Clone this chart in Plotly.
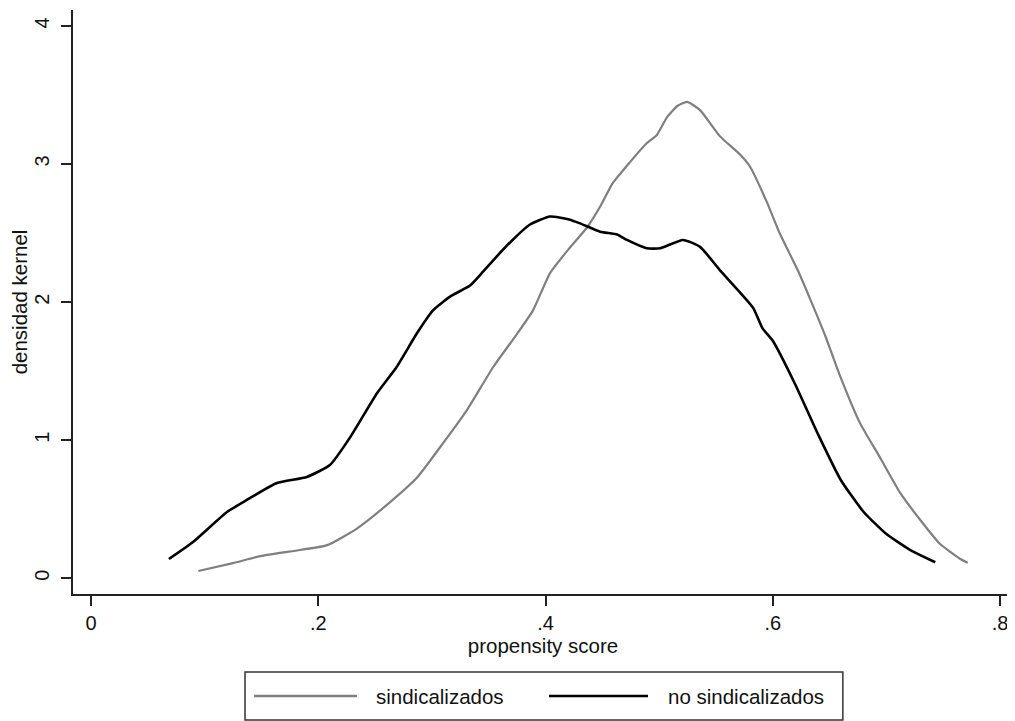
import plotly.graph_objects as go

# sindicalizados (gray)
sind_x = [0.0945, 0.125, 0.149, 0.184, 0.208, 0.234, 0.263, 0.287, 0.310, 0.331, 0.354,
          0.375, 0.389, 0.404, 0.420, 0.4365, 0.448, 0.459, 0.474, 0.489, 0.498, 0.507,
          0.516, 0.5245, 0.536, 0.5536, 0.571, 0.580, 0.595, 0.606, 0.622, 0.633, 0.646,
          0.659, 0.677, 0.694, 0.712, 0.730, 0.747, 0.765, 0.7716]
sind_y = [0.053, 0.11, 0.16, 0.205, 0.24, 0.36, 0.55, 0.73, 0.98, 1.22, 1.53,
          1.77, 1.94, 2.21, 2.38, 2.54, 2.69, 2.86, 3.01, 3.15, 3.21, 3.34,
          3.42, 3.45, 3.39, 3.20, 3.07, 2.98, 2.72, 2.50, 2.23, 2.02, 1.76,
          1.47, 1.12, 0.88, 0.62, 0.42, 0.25, 0.14, 0.113]

# no sindicalizados (black)
nosind_x = [0.0686, 0.0898, 0.1197, 0.137, 0.1637, 0.190, 0.2103, 0.228, 0.2517, 0.269,
            0.287, 0.301, 0.316, 0.3336, 0.345, 0.357, 0.371, 0.386, 0.404, 0.420,
            0.4304, 0.448, 0.463, 0.4717, 0.489, 0.501, 0.521, 0.536, 0.5536, 0.5826,
            0.591, 0.600, 0.620, 0.640, 0.660, 0.680, 0.700, 0.720, 0.743]
nosind_y = [0.14, 0.263, 0.48, 0.567, 0.69, 0.734, 0.82, 1.02, 1.34, 1.53,
            1.776, 1.94, 2.04, 2.12, 2.22, 2.33, 2.45, 2.56, 2.62, 2.60,
            2.57, 2.51, 2.49, 2.45, 2.39, 2.39, 2.45, 2.40, 2.23, 1.96,
            1.81, 1.72, 1.40, 1.04, 0.71, 0.48, 0.32, 0.21, 0.116]

x_tickvals = [0, 0.2, 0.4, 0.6, 0.8]
x_ticktext = ["0", ".2", ".4", ".6", ".8"]
y_tickvals = [0, 1, 2, 3, 4]
y_ticktext = ["0", "1", "2", "3", "4"]

series_names = ["sindicalizados", "no sindicalizados"]
series_colors = ["#7f7f7f", "#000000"]

FONT = "Liberation Sans, Arial, sans-serif"
AX = "#222222"

fig = go.Figure()
fig.add_trace(go.Scatter(x=sind_x, y=sind_y, mode="lines", name=series_names[0],
                         line=dict(color=series_colors[0], width=2.2, shape="spline", smoothing=0.5),
                         showlegend=False))
fig.add_trace(go.Scatter(x=nosind_x, y=nosind_y, mode="lines", name=series_names[1],
                         line=dict(color=series_colors[1], width=2.6, shape="spline", smoothing=0.5),
                         showlegend=False))

# page body adds an 8px offset; the figure is sized so the plot lands where the reference has it
fig.update_layout(
    width=1007, height=713,
    paper_bgcolor="white", plot_bgcolor="white",
    margin=dict(l=65, r=2, t=2, b=127, autoexpand=False),
    font=dict(family=FONT, size=20, color="#111111"),
    showlegend=False,
)
fig.update_xaxes(
    range=[-0.0158, 0.8114], tickvals=x_tickvals, ticktext=x_ticktext,
    showgrid=False, zeroline=False, showline=True, linecolor=AX, linewidth=1.5,
    ticks="outside", ticklen=10, tickwidth=1.5, tickcolor=AX,
    tickfont=dict(size=20), automargin=False,
    title=dict(text="propensity score", font=dict(size=20.5), standoff=4),
)
fig.update_yaxes(
    range=[-0.1137, 4.115], tickvals=y_tickvals, ticktext=y_ticktext,
    showgrid=False, zeroline=False, showline=True, linecolor=AX, linewidth=1.5,
    ticks="outside", ticklen=10, tickwidth=1.5, tickcolor=AX,
    tickfont=dict(size=20), tickangle=-90, automargin=False, ticklabelstandoff=4,
    title=dict(text="densidad kernel", font=dict(size=20.5), standoff=4),
)

# legend drawn as box + sample lines + labels (paper coords)
fig.add_shape(type="rect", xref="paper", yref="paper",
              x0=0.183, x1=0.819, y0=-0.2158, y1=-0.1336,
              line=dict(color="#333333", width=1.5), fillcolor="white")
leg_y = -0.1747
sample_x = [(0.1926, 0.3021), (0.5064, 0.6117)]
label_x = [0.3202, 0.6305]
for i in range(2):
    fig.add_shape(type="line", xref="paper", yref="paper",
                  x0=sample_x[i][0], x1=sample_x[i][1], y0=leg_y, y1=leg_y,
                  line=dict(color=series_colors[i], width=2.4))
    fig.add_annotation(xref="paper", yref="paper", x=label_x[i], y=leg_y,
                       text=series_names[i], showarrow=False, xanchor="left",
                       yanchor="middle", font=dict(size=20.5, color="#111111"))

fig.write_html("out.html")
